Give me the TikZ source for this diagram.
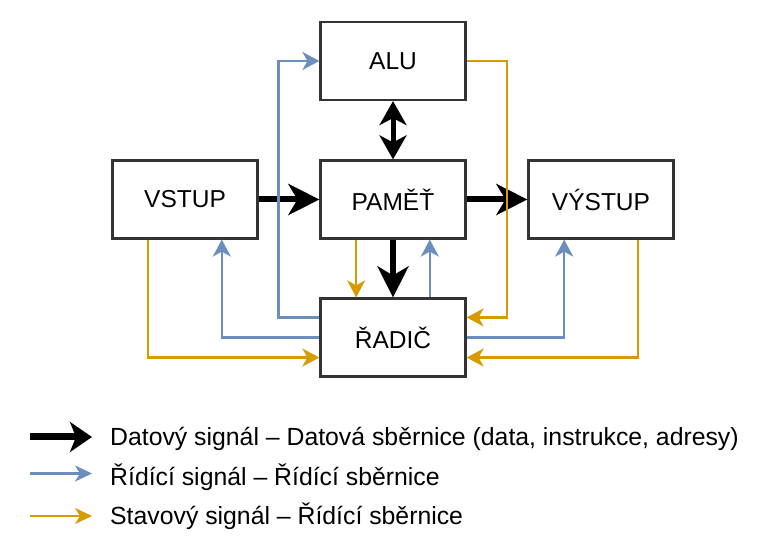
\documentclass[tikz,border=0pt]{standalone}
\usepackage{fontspec}
\setmainfont{Liberation Sans}
\usetikzlibrary{arrows.meta,calc}
\definecolor{ctrl}{HTML}{6C8EBF}
\definecolor{stat}{HTML}{D79B00}
\definecolor{boxline}{HTML}{333333}
\begin{document}
\begin{tikzpicture}[x=1pt,y=-1pt,
  box/.style={draw=boxline,line width=2.2pt,fill=white,minimum width=145pt,minimum height=78pt,inner sep=0pt,font=\fontsize{24.5}{28}\selectfont},
  lbl/.style={anchor=base west,inner sep=0pt,font=\fontsize{24.8}{28}\selectfont},
  data/.style={draw=black,line width=6pt,-{Stealth[length=31pt,width=31pt,inset=9pt]}},
  databoth/.style={draw=black,line width=5pt,{Stealth[length=24pt,width=27pt,inset=7pt]}-{Stealth[length=24pt,width=27pt,inset=7pt]}},
  ctrlarrow/.style={draw=ctrl,line width=2.3pt,-{Stealth[length=17pt,width=18pt,inset=5pt]}},
  statarrow/.style={draw=stat,line width=2.3pt,-{Stealth[length=17pt,width=18pt,inset=5pt]}}
]
\useasboundingbox (0,0) rectangle (772,553);

% boxes
\node[box] (alu) at (393,61) {ALU};
\node[box] (mem) at (393,199.5) {PAMĚŤ};
\node[box] (in)  at (185,199.5) {VSTUP};
\node[box] (out) at (601,199.5) {VÝSTUP};
\node[box] (ctl) at (393,337.5) {ŘADIČ};

% data bus
\draw[data] (in.east) -- (mem.west);
\draw[data] (mem.east) -- (out.west);
\draw[data] (mem.south) -- (ctl.north);
\draw[databoth] (alu.south) -- (mem.north);

% helper coordinates
\coordinate (ctlWa) at ($(ctl.north west)!0.25!(ctl.south west)$);
\coordinate (ctlWb) at (ctl.west);
\coordinate (ctlWc) at ($(ctl.north west)!0.75!(ctl.south west)$);
\coordinate (ctlEa) at ($(ctl.north east)!0.25!(ctl.south east)$);
\coordinate (ctlEb) at (ctl.east);
\coordinate (ctlEc) at ($(ctl.north east)!0.75!(ctl.south east)$);
\coordinate (inSa) at ($(in.south west)!0.25!(in.south east)$);
\coordinate (inSb) at ($(in.south west)!0.75!(in.south east)$);
\coordinate (outSa) at ($(out.south west)!0.25!(out.south east)$);
\coordinate (outSb) at ($(out.south west)!0.75!(out.south east)$);
\coordinate (memSa) at ($(mem.south west)!0.25!(mem.south east)$);
\coordinate (memSb) at ($(mem.south west)!0.75!(mem.south east)$);
\coordinate (ctlNa) at ($(ctl.north west)!0.25!(ctl.north east)$);
\coordinate (ctlNb) at ($(ctl.north west)!0.75!(ctl.north east)$);
\coordinate (leftBus) at (278.5,0);
\coordinate (rightBus) at (507,0);

% control signals (blue)
\draw[ctrlarrow] (ctlWa) -- (leftBus |- ctlWa) -- (leftBus |- alu.west) -- (alu.west);
\draw[ctrlarrow] (ctlWb) -- (inSb |- ctlWb) -- (inSb);
\draw[ctrlarrow] (ctlNb) -- (memSb);
\draw[ctrlarrow] (ctlEb) -- (outSa |- ctlEb) -- (outSa);

% status signals (yellow)
\draw[statarrow] (inSa) -- (inSa |- ctlWc) -- (ctlWc);
\draw[statarrow] (memSa) -- (ctlNa);
\draw[statarrow] (alu.east) -- (rightBus |- alu.east) -- (rightBus |- ctlEa) -- (ctlEa);
\draw[statarrow] (outSb) -- (outSb |- ctlEc) -- (ctlEc);

% legend
\coordinate (l1a) at (30,437);
\coordinate (l1b) at (92,437);
\coordinate (l2a) at (30,473.5);
\coordinate (l2b) at (92,473.5);
\coordinate (l3a) at (30,516);
\coordinate (l3b) at (92,516);
\draw[draw=black,line width=7pt,-{Stealth[length=22pt,width=30pt,inset=6pt]}] (l1a) -- (l1b);
\draw[draw=ctrl,line width=2.3pt,-{Stealth[length=17pt,width=16pt,inset=5pt]}] (l2a) -- (l2b);
\draw[draw=stat,line width=2.3pt,-{Stealth[length=17pt,width=16pt,inset=5pt]}] (l3a) -- (l3b);
\node[lbl] (t1) at (110,446) {Datový signál – Datová sběrnice (data, instrukce, adresy)};
\node[lbl] (t2) at (110,485.5) {Řídící signál – Řídící sběrnice};
\node[lbl] (t3) at (110,525) {Stavový signál – Řídící sběrnice};
\end{tikzpicture}
\end{document}
